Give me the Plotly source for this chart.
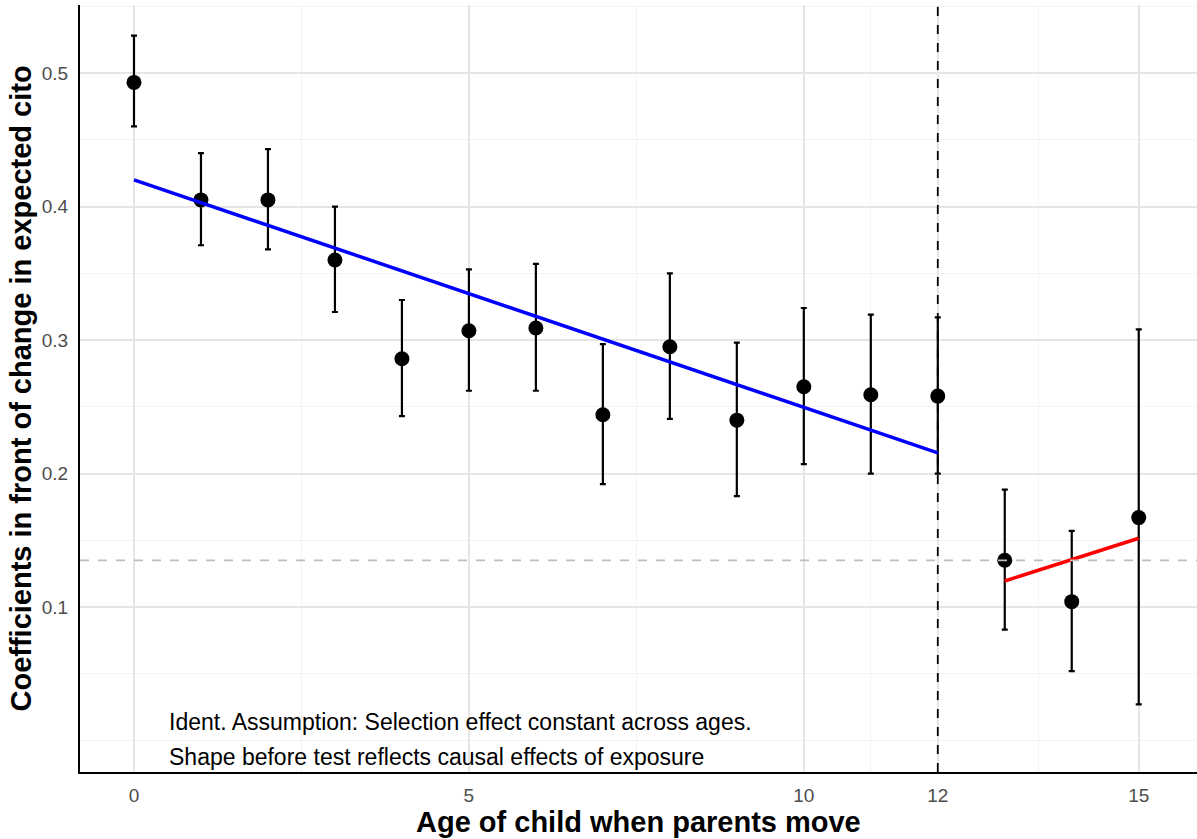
import plotly.graph_objects as go

ages = [0, 1, 2, 3, 4, 5, 6, 7, 8, 9, 10, 11, 12, 13, 14, 15]
coef = [0.493, 0.405, 0.405, 0.360, 0.286, 0.307, 0.309, 0.244, 0.295, 0.240, 0.265, 0.259, 0.258, 0.135, 0.104, 0.167]
upper = [0.528, 0.440, 0.443, 0.400, 0.330, 0.353, 0.357, 0.297, 0.350, 0.298, 0.324, 0.319, 0.317, 0.188, 0.157, 0.308]
lower = [0.460, 0.371, 0.368, 0.321, 0.243, 0.262, 0.262, 0.192, 0.241, 0.183, 0.207, 0.200, 0.200, 0.083, 0.052, 0.027]

blue_x = [0, 12]
blue_y = [0.420, 0.2155]
red_x = [13, 15]
red_y = [0.1195, 0.1515]
hline_y = 0.135
vline_x = 12

x_ticks = [0, 5, 10, 12, 15]
y_ticks = [0.1, 0.2, 0.3, 0.4, 0.5]
notes = ["Ident. Assumption: Selection effect constant across ages.",
         "Shape before test reflects causal effects of exposure"]
x_title = "Age of child when parents move"
y_title = "Coefficients in front of change in expected cito"

FONT = "Liberation Sans, Arial, Helvetica"
W, H = 1197, 839
ML, MR, MT, MB = 80, 0, 5, 67
PW, PH = W - ML - MR, H - MT - MB

fig = go.Figure()

fig.add_trace(go.Scatter(
    x=ages, y=coef, mode="markers",
    marker=dict(color="black", size=15),
    error_y=dict(type="data", symmetric=False,
                 array=[u - c for u, c in zip(upper, coef)],
                 arrayminus=[c - l for c, l in zip(coef, lower)],
                 color="black", thickness=2.2, width=3),
    showlegend=False))

fig.add_trace(go.Scatter(x=blue_x, y=blue_y, mode="lines",
                         line=dict(color="#0000FF", width=3.5), showlegend=False))
fig.add_trace(go.Scatter(x=red_x, y=red_y, mode="lines",
                         line=dict(color="#FF0000", width=3.5), showlegend=False))

fig.add_hline(y=hline_y, line=dict(color="#BEBEBE", width=1.8, dash="dash"))
fig.add_vline(x=vline_x, line=dict(color="black", width=1.8, dash="dash"))

for i, t in enumerate(notes):
    fig.add_annotation(x=0.5, y=[0.014, -0.0125][i], text=t, showarrow=False,
                       xanchor="left", yanchor="middle",
                       font=dict(family=FONT, size=23, color="black"))

# axis titles (positioned in paper coordinates)
fig.add_annotation(x=0.5, xref="paper", y=-(822 - (H - MB)) / PH, yref="paper",
                   text=f"<b>{x_title}</b>", showarrow=False,
                   xanchor="center", yanchor="middle",
                   font=dict(family=FONT, size=29, color="black"))
fig.add_annotation(x=-(ML - 20) / PW, xref="paper", y=0.5, yref="paper",
                   text=f"<b>{y_title}</b>", showarrow=False, textangle=-90,
                   xanchor="center", yanchor="middle",
                   font=dict(family=FONT, size=29, color="black"))

grid = "#E5E5E5"
minor_grid = "#F3F3F3"
fig.update_layout(
    width=W, height=H,
    margin=dict(l=ML, r=MR, t=MT, b=MB),
    plot_bgcolor="white", paper_bgcolor="white",
    font=dict(family=FONT),
    xaxis=dict(range=[-0.806, 15.87], tickvals=x_ticks, ticktext=[str(v) for v in x_ticks],
               showgrid=True, gridcolor=grid, gridwidth=1.6, zeroline=False,
               showline=True, linecolor="black", linewidth=2, automargin=False,
               tickfont=dict(size=19, color="#4D4D4D"), ticks="", ticklabelstandoff=5,
               minor=dict(tickvals=[2.5, 7.5, 11, 13.5], showgrid=True, gridcolor=minor_grid, gridwidth=1)),
    yaxis=dict(range=[-0.0236, 0.551], tickvals=y_ticks, ticktext=[f"{v:.1f}" for v in y_ticks],
               showgrid=True, gridcolor=grid, gridwidth=1.6, zeroline=False,
               showline=True, linecolor="black", linewidth=2, automargin=False,
               tickfont=dict(size=19, color="#4D4D4D"), ticks="", ticklabelstandoff=6,
               minor=dict(tickvals=[0.0, 0.05, 0.15, 0.25, 0.35, 0.45, 0.55], showgrid=True,
                          gridcolor=minor_grid, gridwidth=1)),
)

fig.write_html("out.html", config={"displayModeBar": False},
               post_script="document.body.style.margin='0';")
